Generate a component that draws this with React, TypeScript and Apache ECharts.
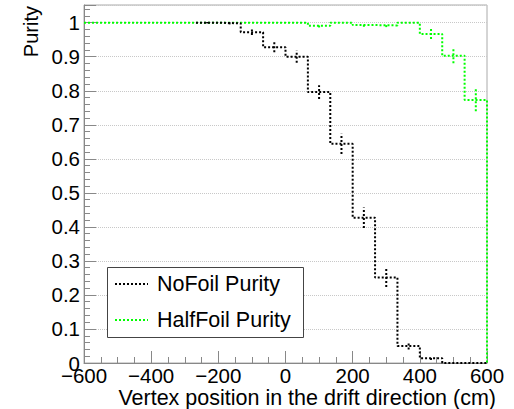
import React, { useEffect, useRef } from "react";
import * as echarts from "echarts";

// Bin edges of the histograms (cm)
const binEdges = [
  -600, -533.33, -466.67, -400, -333.33, -266.67, -200, -133.33, -66.67, 0,
  66.67, 133.33, 200, 266.67, 333.33, 400, 466.67, 533.33, 600,
];

// NoFoil purity per bin (null = empty bin)
const noFoilPurity: (number | null)[] = [
  null, null, null, null, null, 1.0, 0.998, 0.972, 0.928, 0.9, 0.796, 0.644,
  0.427, 0.251, 0.05, 0.014, 0.0, 0.0,
];
const noFoilError = [
  0, 0, 0, 0, 0, 0.002, 0.003, 0.008, 0.015, 0.018, 0.02, 0.03, 0.03, 0.028,
  0.01, 0.005, 0, 0,
];

// HalfFoil purity per bin
const halfFoilPurity: (number | null)[] = [
  1.0, 1.0, 1.0, 1.0, 1.0, 1.0, 1.0, 1.0, 1.0, 1.0, 0.991, 1.0, 0.993, 0.992,
  1.0, 0.967, 0.903, 0.773,
];
const halfFoilError = [
  0, 0, 0, 0, 0, 0, 0, 0, 0, 0, 0.005, 0, 0.005, 0.005, 0, 0.015, 0.022, 0.033,
];

const yTickLabels = ["0", "0.1", "0.2", "0.3", "0.4", "0.5", "0.6", "0.7", "0.8", "0.9", "1"];

const FONT = "Liberation Sans, Arial, Helvetica, sans-serif";
const GREEN = "#00ff00";

function stepPoints(vals: (number | null)[], dropToZero: boolean) {
  const pts: number[][] = [];
  vals.forEach((v, i) => {
    if (v === null) return;
    pts.push([binEdges[i], v]);
    pts.push([binEdges[i + 1], v]);
  });
  if (dropToZero) pts.push([binEdges[binEdges.length - 1], 0]);
  return pts;
}

function errorPoints(vals: (number | null)[], errs: number[]) {
  const pts: number[][] = [];
  vals.forEach((v, i) => {
    if (v === null || !(errs[i] > 0)) return;
    pts.push([(binEdges[i] + binEdges[i + 1]) / 2, v, errs[i]]);
  });
  return pts;
}

function errorSeries(data: number[][], color: string) {
  return {
    type: "custom",
    data,
    encode: { x: 0, y: 1 },
    z: 3,
    renderItem: (_params: any, api: any) => {
      const x = api.value(0);
      const y = api.value(1);
      const e = api.value(2);
      const p1 = api.coord([x, y - e]);
      const p2 = api.coord([x, y + e]);
      return {
        type: "line",
        shape: { x1: p1[0], y1: p1[1], x2: p2[0], y2: p2[1] },
        style: { stroke: color, lineWidth: 2, lineDash: [2, 2] },
      };
    },
  };
}

export default function App() {
  const ref = useRef<HTMLDivElement>(null);
  useEffect(() => {
    if (!ref.current) return;
    const chart = echarts.init(ref.current, null, { renderer: "svg" });
    const axisGrey = "#888";
    chart.setOption({
      animation: false,
      backgroundColor: "#fff",
      grid: {
        left: 84,
        right: 27,
        top: 5,
        bottom: 46,
        show: true,
        borderColor: "#aaa",
        borderWidth: 1,
        backgroundColor: "#fff",
      },
      xAxis: {
        type: "value",
        min: -600,
        max: 600,
        interval: 200,
        axisLine: { onZero: false, lineStyle: { color: axisGrey, width: 1 } },
        axisTick: { inside: true, length: 12, lineStyle: { color: axisGrey } },
        minorTick: { show: true, splitNumber: 4, length: 6, lineStyle: { color: axisGrey } },
        splitLine: { show: false },
        axisLabel: {
          fontSize: 20.5,
          fontFamily: FONT,
          color: "#000",
          margin: 4,
          lineHeight: 16,
          formatter: (v: number) => (v < 0 ? "\u2212" + Math.abs(v) : String(v)),
        },
      },
      yAxis: {
        type: "value",
        min: 0,
        max: 1.052,
        interval: 0.1,
        axisLine: { show: true, onZero: false, lineStyle: { color: axisGrey, width: 1 } },
        axisTick: { inside: true, length: 12, lineStyle: { color: axisGrey } },
        minorTick: { show: true, splitNumber: 5, length: 6, lineStyle: { color: axisGrey } },
        splitLine: { show: true, lineStyle: { color: "#c8c8c8", width: 1, type: [1, 1] } },
        axisLabel: {
          fontSize: 20.5,
          fontFamily: FONT,
          color: "#000",
          margin: 4,
          formatter: (v: number) => {
            const idx = Math.round(v * 10);
            if (Math.abs(v * 10 - idx) > 0.01 || idx > 10) return "";
            return yTickLabels[idx];
          },
        },
      },
      series: [
        {
          type: "line",
          name: "HalfFoil Purity",
          data: stepPoints(halfFoilPurity, true),
          symbol: "none",
          lineStyle: { color: GREEN, width: 2, type: [2, 2] },
          z: 2,
        },
        {
          type: "line",
          name: "NoFoil Purity",
          data: stepPoints(noFoilPurity, false),
          symbol: "none",
          lineStyle: { color: "#000", width: 2, type: [2, 2] },
          z: 2,
        },
        errorSeries(errorPoints(halfFoilPurity, halfFoilError), GREEN),
        errorSeries(errorPoints(noFoilPurity, noFoilError), "#000"),
      ],
      graphic: [
        {
          type: "text",
          z: 100,
          x: 31,
          y: 6,
          rotation: Math.PI / 2,
          style: {
            text: "Purity",
            font: `20px ${FONT}`,
            fill: "#000",
            align: "right",
            verticalAlign: "middle",
          },
        },
        {
          type: "text",
          z: 100,
          x: 496,
          y: 398,
          style: {
            text: "Vertex position in the drift direction (cm)",
            font: `21.5px ${FONT}`,
            fill: "#000",
            align: "right",
            verticalAlign: "middle",
          },
        },
        {
          type: "rect",
          z: 100,
          shape: { x: 107.5, y: 267.5, width: 196, height: 70 },
          style: { fill: "#fff", stroke: "#444", lineWidth: 1 },
        },
        {
          type: "line",
          z: 101,
          shape: { x1: 115, y1: 284, x2: 148, y2: 284 },
          style: { stroke: "#000", lineWidth: 2, lineDash: [2, 2] },
        },
        {
          type: "text",
          z: 101,
          x: 157,
          y: 284,
          style: {
            text: "NoFoil Purity",
            font: `21.5px ${FONT}`,
            fill: "#000",
            verticalAlign: "middle",
          },
        },
        {
          type: "line",
          z: 101,
          shape: { x1: 115, y1: 320, x2: 148, y2: 320 },
          style: { stroke: GREEN, lineWidth: 2, lineDash: [2, 2] },
        },
        {
          type: "text",
          z: 101,
          x: 157,
          y: 320,
          style: {
            text: "HalfFoil Purity",
            font: `21.5px ${FONT}`,
            fill: "#000",
            verticalAlign: "middle",
          },
        },
      ],
    });
    return () => chart.dispose();
  }, []);
  return (
    <div
      ref={ref}
      style={{ position: "fixed", left: 0, top: 0, width: 514, height: 409 }}
    />
  );
}
